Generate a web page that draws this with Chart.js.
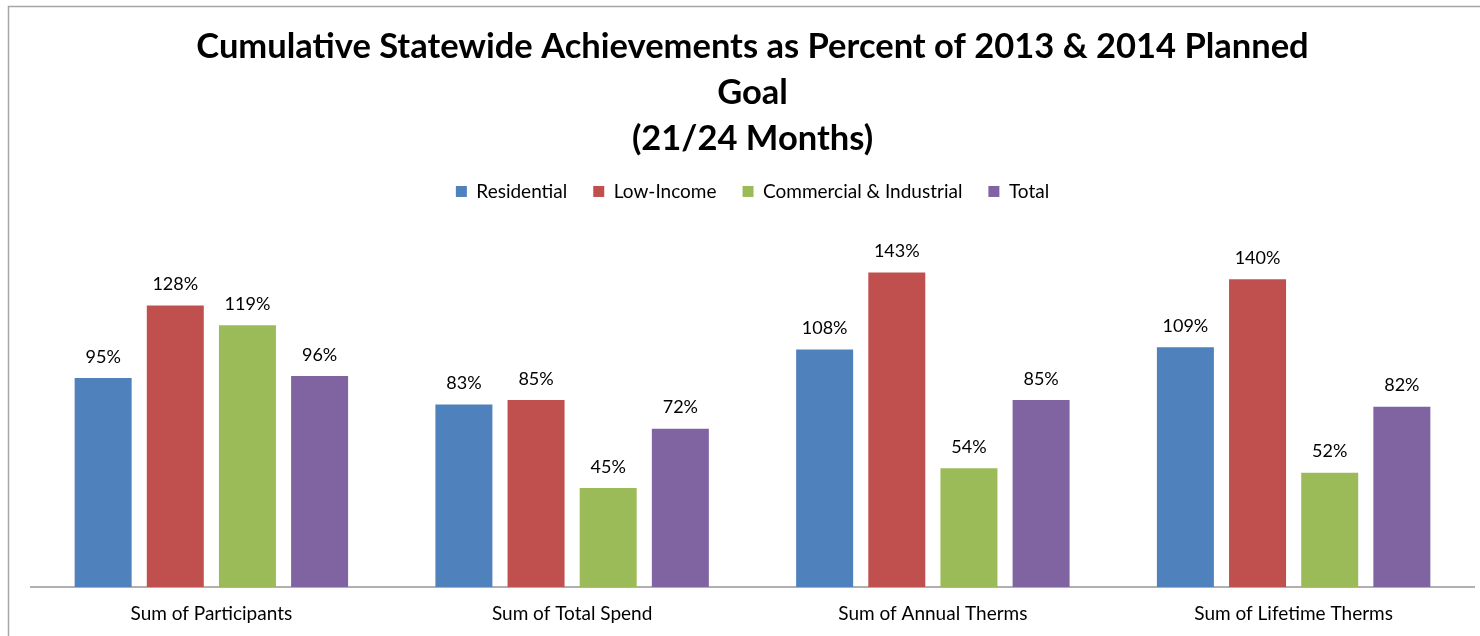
<!DOCTYPE html>
<html><head><meta charset="utf-8">
<script src="https://cdn.jsdelivr.net/npm/chart.js@4.4.1/dist/chart.umd.min.js"></script>
<style>html,body{margin:0;padding:0;background:#fff;}#wrap{width:1480px;height:636px;position:relative;}</style>
</head><body><div id="wrap"><canvas id="c" width="1480" height="636"></canvas></div>
<script>
const categories = ["Sum of Participants", "Sum of Total Spend", "Sum of Annual Therms", "Sum of Lifetime Therms"];
const residential = [95, 83, 108, 109];
const lowIncome = [128, 85, 143, 140];
const commercialIndustrial = [119, 45, 54, 52];
const total = [96, 72, 85, 82];
const seriesNames = ["Residential", "Low-Income", "Commercial & Industrial", "Total"];
const colors = ["#4F81BD", "#C0504D", "#9BBB59", "#8064A2"];
const titleLines = ["Cumulative Statewide Achievements as Percent of 2013 & 2014 Planned", "Goal", "(21/24 Months)"];
const FONT = "Lato, 'Open Sans', sans-serif";

const borderPlugin = {
  id: 'borderBox',
  beforeDraw(chart) {
    const ctx = chart.ctx;
    ctx.save();
    ctx.fillStyle = '#fff';
    ctx.fillRect(0, 0, chart.width, chart.height);
    ctx.strokeStyle = '#a6a6a6';
    ctx.lineWidth = 1.5;
    ctx.strokeRect(8.5, 6.5, 1500, 700);
    ctx.restore();
  }
};
const labelPlugin = {
  id: 'valueLabels',
  afterDatasetsDraw(chart) {
    const ctx = chart.ctx;
    ctx.save();
    ctx.font = "18px " + FONT;
    ctx.fillStyle = '#000';
    ctx.textAlign = 'center';
    ctx.textBaseline = 'bottom';
    chart.data.datasets.forEach((ds, i) => {
      chart.getDatasetMeta(i).data.forEach((bar, j) => {
        ctx.fillText(ds.data[j] + '%', bar.x, bar.y - 12);
      });
    });
    ctx.restore();
  }
};
const seriesData = [residential, lowIncome, commercialIndustrial, total];
new Chart(document.getElementById('c'), {
  type: 'bar',
  data: {
    labels: categories,
    datasets: seriesNames.map((n, i) => ({
      label: n, data: seriesData[i], backgroundColor: colors[i],
      categoryPercentage: 0.8, barPercentage: 0.79
    }))
  },
  options: {
    responsive: false, animation: false,
    layout: { padding: { left: 31, right: 6, top: 14, bottom: 0 } },
    plugins: {
      title: { display: true, text: titleLines, color: '#000',
        font: { family: FONT, size: 34.5, weight: 'bold', lineHeight: 1.333 }, padding: { top: 10, bottom: -6 } },
      legend: { display: true, position: 'top',
        labels: { boxWidth: 11, boxHeight: 11, color: '#000', padding: 26, font: { family: FONT, size: 19 } } },
      tooltip: { enabled: false }
    },
    scales: {
      x: { grid: { display: false }, border: { display: true, color: '#b0b0b0', width: 2 },
        ticks: { color: '#000', font: { family: FONT, size: 19 }, padding: 7 },
        afterFit(scale) { scale.height = 49; } },
      y: { display: false, min: 0, max: 171 }
    }
  },
  plugins: [borderPlugin, labelPlugin]
});
</script></body></html>
